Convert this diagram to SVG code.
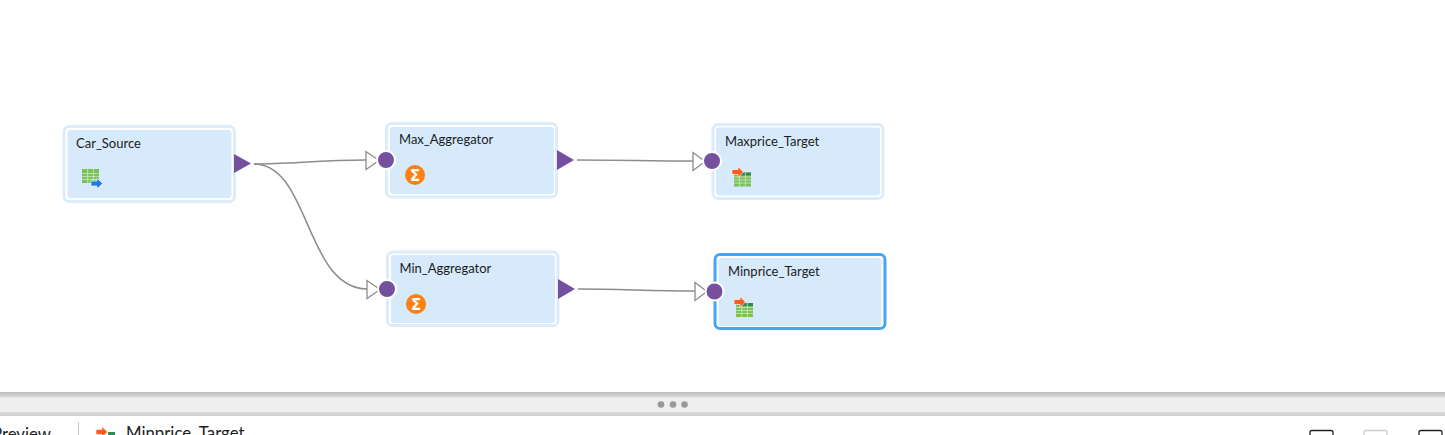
<svg xmlns="http://www.w3.org/2000/svg" width="1445" height="435" viewBox="0 0 1445 435">
<style>
.outer{fill:#fff;stroke:#dcecfa;stroke-width:3}
.sel{fill:#fff;stroke:#46a2f7;stroke-width:3}
.inner{fill:#d6eafc}
.lbl{font-family:Lato,"Liberation Sans",sans-serif;font-size:13px;fill:#1c1c1c}
.bot{font-family:Lato,"Liberation Sans",sans-serif;font-size:16.800px;fill:#222}
.conn{fill:none;stroke:#8c8c8c;stroke-width:1.500}
.in{fill:#fff;stroke:#8c8c8c;stroke-width:1.300}
.out{fill:#7550a0}
.port{fill:#74509f;stroke:#fff;stroke-width:2}
.sig{fill:#fb8115}
.sigt{font-family:"DejaVu Sans",sans-serif;font-size:15px;font-weight:bold;fill:#fff;text-anchor:middle}
.tg{fill:#7cc05c}.th{fill:#2e8b57}.tl{stroke:#d6f0c8;stroke-width:.7}
</style>
<defs>
<linearGradient id="bar" x1="0" y1="0" x2="0" y2="1">
<stop offset="0" stop-color="#bdbdbd"/><stop offset=".2" stop-color="#d8d8d8"/><stop offset=".24" stop-color="#eeeeee"/><stop offset=".82" stop-color="#eeeeee"/><stop offset=".86" stop-color="#d9d9d9"/><stop offset="1" stop-color="#cfcfcf"/>
</linearGradient>
<g id="grid">
<rect class="tg" width="17" height="14"/>
<path class="tl" d="M0 4.500H17M0 7.500H17M0 10.500H17M5.700 0V14M11.400 0V14" fill="none"/>
</g>
<g id="gridT">
<rect class="tg" width="17" height="14"/>
<rect class="th" x="5.700" width="11.300" height="3"/>
<path class="tl" d="M0 4.500H17M0 7.500H17M0 10.500H17M5.700 0V14M11.400 0V14" fill="none"/>
</g>
<path id="arrowR" d="M0 -2.500H6V-5.500L11.500 0L6 5.500V2.500H0Z" fill="#ff5a1f" stroke="#fff" stroke-width=".6"/>
<path id="arrowB" d="M0 -2.500H6V-5.500L11.500 0L6 5.500V2.500H0Z" fill="#1f7bea" stroke="#fff" stroke-width=".6"/>
</defs>
<rect width="1445" height="435" fill="#fff"/>
<g id="connectors">
<path class="conn" d="M254 164C290 164 320 160 366 160"/>
<path class="conn" d="M254 164C310 164 305 288 367 289"/>
<path class="conn" d="M577 160C620 160 650 161 693 161"/>
<path class="conn" d="M578 289C620 289 650 291 695 291"/>
</g>
<g id="node-car-source">
<rect class="outer" x="64" y="126.500" width="170.500" height="75" rx="5"/>
<rect class="inner" x="67.500" y="130" width="164" height="68" rx="3"/>
<text class="lbl" x="76" y="147.500">Car_Source</text>
<use href="#grid" x="82" y="169"/>
<use href="#arrowB" x="91" y="183.500"/>
<path class="out" d="M234 154L251 163.500L234 173Z"/>
</g>
<g id="node-max-aggregator">
<rect class="outer" x="386.500" y="123.500" width="170" height="73.500" rx="5"/>
<rect class="inner" x="390" y="127" width="164" height="67" rx="3"/>
<text class="lbl" x="399" y="144">Max_Aggregator</text>
<circle class="sig" cx="415" cy="175" r="10"/>
<text class="sigt" x="415" y="180.500">Σ</text>
<path class="in" d="M366 151.500L379 160.500L366 169.500Z"/>
<circle class="port" cx="386" cy="160" r="9"/>
<path class="out" d="M557 150L574 160L557 170Z"/>
</g>
<g id="node-maxprice-target">
<rect class="outer" x="713" y="124.500" width="170" height="74" rx="5"/>
<rect class="inner" x="716" y="127.500" width="164" height="68" rx="3"/>
<text class="lbl" x="725" y="146">Maxprice_Target</text>
<use href="#gridT" x="734" y="172.500"/>
<use href="#arrowR" x="732" y="172"/>
<path class="in" d="M693 152.500L705 161.500L693 170.500Z"/>
<circle class="port" cx="712" cy="161" r="9"/>
</g>
<g id="node-min-aggregator">
<rect class="outer" x="387.500" y="252" width="170.500" height="73.500" rx="5"/>
<rect class="inner" x="391" y="255" width="164" height="68" rx="3"/>
<text class="lbl" x="399.500" y="273">Min_Aggregator</text>
<circle class="sig" cx="416" cy="304" r="10"/>
<text class="sigt" x="416" y="309.500">Σ</text>
<path class="in" d="M367 280.500L380 289.500L367 298.500Z"/>
<circle class="port" cx="387" cy="289" r="9"/>
<path class="out" d="M558 279L575 289L558 299Z"/>
</g>
<g id="node-minprice-target">
<rect class="sel" x="715" y="254.500" width="170" height="74" rx="5"/>
<rect class="inner" x="718.500" y="258" width="163" height="68" rx="3"/>
<text class="lbl" x="728" y="276">Minprice_Target</text>
<use href="#gridT" x="736" y="303"/>
<use href="#arrowR" x="734" y="302"/>
<path class="in" d="M695 282.500L707 291.500L695 300.500Z"/>
<circle class="port" cx="714.500" cy="291.500" r="9"/>
</g>
<g id="bottom-bar">
<rect y="392" width="1445" height="24" fill="url(#bar)"/>
<circle cx="661" cy="404.500" r="3.300" fill="#999"/>
<circle cx="673" cy="404.500" r="3.300" fill="#999"/>
<circle cx="684.500" cy="404.500" r="3.300" fill="#999"/>
<text class="bot" x="-8" y="440">Preview</text>
<line x1="78.500" y1="422" x2="78.500" y2="435" stroke="#c8c8c8"/>
<use href="#arrowR" x="96" y="432"/>
<rect x="108" y="432" width="7" height="3" fill="#2e8b57"/>
<text class="bot" x="126" y="439">Minprice_Target</text>
<rect x="1310" y="430.500" width="23" height="10" rx="2" fill="#fff" stroke="#222" stroke-width="1.300"/>
<rect x="1364" y="430.500" width="23" height="10" rx="2" fill="#fff" stroke="#ccc" stroke-width="1.300"/>
<rect x="1419" y="430.500" width="23" height="10" rx="2" fill="#fff" stroke="#222" stroke-width="1.300"/>
</g>
</svg>
